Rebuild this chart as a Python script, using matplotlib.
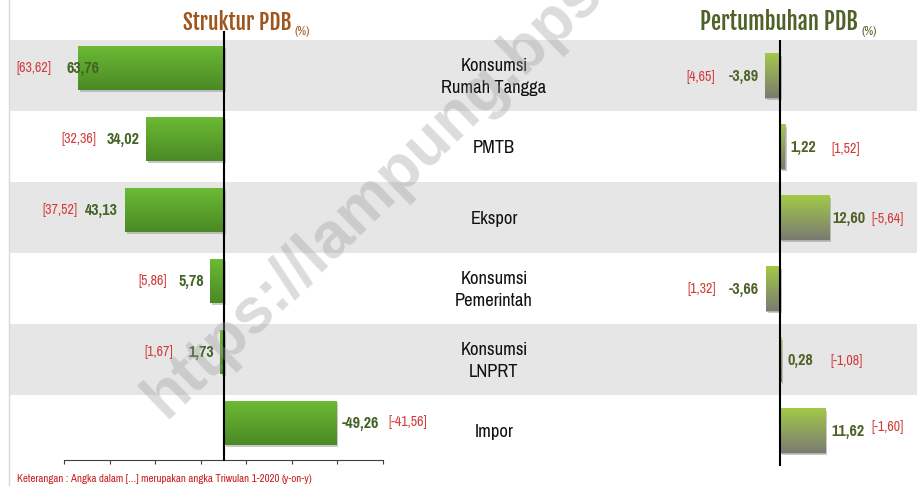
import numpy as np
import matplotlib
matplotlib.use("Agg")
import matplotlib.pyplot as plt
import matplotlib.patheffects as pe
from matplotlib import font_manager

# data
categories = ["Konsumsi\nRumah Tangga", "PMTB", "Ekspor", "Konsumsi\nPemerintah", "Konsumsi\nLNPRT", "Impor"]
struktur = [63.76, 34.02, 43.13, 5.78, 1.73, -49.26]
struktur_prev = ["[63,62]", "[32,36]", "[37,52]", "[5,86]", "[1,67]", "[-41,56]"]
tumbuh = [-3.89, 1.22, 12.60, -3.66, 0.28, 11.62]
tumbuh_prev = ["[4,65]", "[1,52]", "[-5,64]", "[1,32]", "[-1,08]", "[-1,60]"]
struktur_ticks = [70, 50, 30, 10, -10, -30, -50, -70]

# fonts (narrow face like Arial Narrow if available)
names = {f.name for f in font_manager.fontManager.ttflist}
def pick(*fams):
    for f in fams:
        if f in names:
            return f
    return "Liberation Sans"
NARROW = pick("Liberation Sans Narrow", "Arial Narrow", "Pragati Narrow", "Roboto Condensed")
TITLE = pick("Fjalla One", "Pragati Narrow", "Roboto Condensed")
plt.rcParams["font.family"] = [NARROW, "DejaVu Sans"]

W, H = 917, 486
fig = plt.figure(figsize=(W / 100, H / 100), dpi=100)


def px_box(x0, y0, x1, y1):
    # pixel box (top-left origin) -> figure fraction rect
    return [x0 / W, (H - y1) / H, (x1 - x0) / W, (y1 - y0) / H]


n = len(categories)
rows = np.arange(n)
fmt = lambda v: f"{v:.2f}".replace(".", ",")

# background bands + category names
bg = fig.add_axes(px_box(10, 40, W, 466))
bg.set_xlim(0, 1)
bg.set_ylim(n - 0.5, -0.5)
for i in rows[::2]:
    bg.axhspan(i - 0.5, i + 0.5, color="#e6e6e6", lw=0)
for i, c in enumerate(categories):
    bg.text((494 - 10) / 907, i + 0.02, c, ha="center", va="center", fontsize=14.5,
            color="#111111", linespacing=1.48)
bg.axis("off")

# left border line of slide
fig.add_artist(plt.Line2D([9 / W, 9 / W], [0, 1], color="#d9d9d9", lw=1))


def gradient_bars(ax, bars, top, bottom):
    grad = np.linspace(0, 1, 64)[:, None]
    c0 = np.array(matplotlib.colors.to_rgb(top))
    c1 = np.array(matplotlib.colors.to_rgb(bottom))
    img = c0[None, None, :] * (1 - grad[..., None]) + c1[None, None, :] * grad[..., None]
    img = np.repeat(img, 2, axis=1)
    for b in bars:
        b.set_path_effects([pe.SimplePatchShadow(offset=(1.5, -1.5), shadow_rgbFace="#888888", alpha=0.45),
                            pe.Normal()])
        x0, x1 = b.get_x(), b.get_x() + b.get_width()
        y0, y1 = b.get_y(), b.get_y() + b.get_height()
        im = ax.imshow(img, extent=(min(x0, x1), max(x0, x1), y1, y0), origin="upper",
                       aspect="auto", zorder=3, interpolation="bilinear")
        im.set_clip_path(b)


# left chart: Struktur PDB
axL = fig.add_axes(px_box(64, 40, 383, 460))
axL.patch.set_alpha(0)
yl = rows - 0.1
barsL = axL.barh(yl, struktur, height=0.62, color="#5aa02c", zorder=2, lw=0)
gradient_bars(axL, barsL, "#6cbb35", "#4a8a25")
axL.set_xlim(70, -70)
axL.set_ylim(-0.5 + n * 420 / 426, -0.5)
axL.axvline(0, ymin=0, ymax=1 + 8 / 420, color="black", lw=1.5, clip_on=False, zorder=5)
axL.set_yticks([])
axL.set_xticks(struktur_ticks)
axL.set_xticklabels([])
axL.tick_params(axis="x", direction="out", length=3, color="#404040")
for s in ["top", "left", "right"]:
    axL.spines[s].set_visible(False)
axL.spines["bottom"].set_color("#404040")

val_gap_L = [-21, 6, 7, 6, 6, 6]
br_gap_L = [15, 11, 8, 12, 15, 9]
for i, v in enumerate(struktur):
    if v >= 0:
        t = axL.annotate(fmt(v), (v, yl[i]), xytext=(-val_gap_L[i], 0), textcoords="offset pixels",
                         ha="right", va="center", fontsize=12.5, fontweight="bold", color="#416425", zorder=6)
        axL.annotate(struktur_prev[i], (0, 0.5), xycoords=t, xytext=(-br_gap_L[i], 0),
                     textcoords="offset pixels", ha="right", va="center", fontsize=11, color="#d23c3c")
    else:
        t = axL.annotate(fmt(v), (v, yl[i]), xytext=(val_gap_L[i], 0), textcoords="offset pixels",
                         ha="left", va="center", fontsize=12.5, fontweight="bold", color="#416425", zorder=6)
        axL.annotate(struktur_prev[i], (1, 0.5), xycoords=t, xytext=(br_gap_L[i], 1),
                     textcoords="offset pixels", ha="left", va="center", fontsize=11, color="#d23c3c")

# right chart: Pertumbuhan PDB
axR = fig.add_axes(px_box(660, 40, W, 466))
axR.patch.set_alpha(0)
barsR = axR.barh(rows, tumbuh, height=0.62, color="#8fae4a", zorder=2, edgecolor="#b0b0b0", lw=0.6)
gradient_bars(axR, barsR, "#a2c946", "#7b7b72")
axR.set_xlim(-120 / 3.9, 137 / 3.9)
axR.set_ylim(n - 0.5, -0.5)
axR.axvline(0, color="black", lw=1.5, zorder=5)
axR.axis("off")

val_gap_R = [6, 6, 3, 7, 6, 6]
br_gap_R = [14, 15, 6, 13, 18, 7]
br_dy_R = [0, -2, 0, 0, 0, 4]
for i, v in enumerate(tumbuh):
    if v < 0:
        t = axR.annotate(fmt(v), (v, i), xytext=(-val_gap_R[i], -1), textcoords="offset pixels",
                         ha="right", va="center", fontsize=12.5, fontweight="bold", color="#4f6228", zorder=6)
        axR.annotate(tumbuh_prev[i], (0, 0.5), xycoords=t, xytext=(-br_gap_R[i], br_dy_R[i]),
                     textcoords="offset pixels", ha="right", va="center", fontsize=11, color="#d23c3c")
    else:
        t = axR.annotate(fmt(v), (v, i), xytext=(val_gap_R[i], -1), textcoords="offset pixels",
                         ha="left", va="center", fontsize=12.5, fontweight="bold", color="#4f6228", zorder=6)
        axR.annotate(tumbuh_prev[i], (1, 0.5), xycoords=t, xytext=(br_gap_R[i], br_dy_R[i]),
                     textcoords="offset pixels", ha="left", va="center", fontsize=11, color="#d23c3c")

# titles
tL = fig.text(183 / W, 1 - 30 / H, "Struktur PDB", fontsize=15.5, color="#9e561e",
              ha="left", va="baseline", family=[TITLE, "DejaVu Sans"])
fig.add_artist(plt.Annotation("(%)", (1, 0), xycoords=tL, xytext=(3, 0), textcoords="offset pixels",
                              fontsize=9.5, color="#9e561e", ha="left", va="baseline"))
tR = fig.text(700 / W, 1 - 30 / H, "Pertumbuhan PDB", fontsize=16.3, color="#4f6228",
              ha="left", va="baseline", family=[TITLE, "DejaVu Sans"])
fig.add_artist(plt.Annotation("(%)", (1, 0), xycoords=tR, xytext=(4, 0), textcoords="offset pixels",
                              fontsize=9.5, color="#4f6228", ha="left", va="baseline"))

# footnote
fn = fig.text(17 / W, 1 - 482 / H, "Keterangan : Angka dalam [...] merupakan angka Triwulan 1-2020 ",
              fontsize=8.5, color="#c8201e", ha="left", va="baseline")
fig.add_artist(plt.Annotation("(y-on-y)", (1, 0), xycoords=fn, fontsize=8.5, color="#c8201e",
                              style="italic", ha="left", va="bottom"))

# watermark
fig.text(165 / W, 1 - 420 / H, "https://lampung.bps.go.id", fontsize=46, fontweight="bold",
         color="#9a9a9a", alpha=0.35, rotation=44, rotation_mode="anchor", ha="left", va="baseline",
         family=["Liberation Sans", "DejaVu Sans"], zorder=10)

fig.savefig("out.png", dpi=100)
